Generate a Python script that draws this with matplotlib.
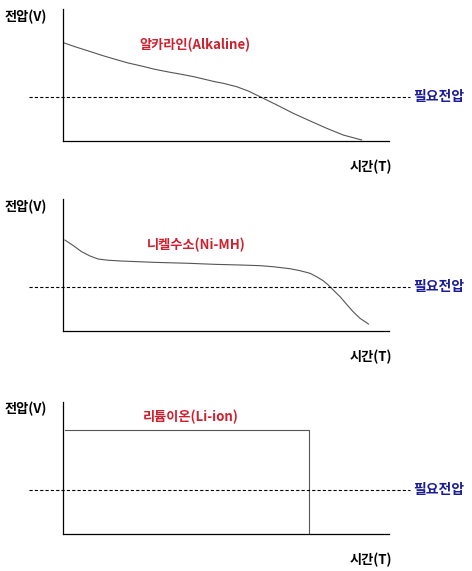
import matplotlib
matplotlib.use("Agg")
import matplotlib.pyplot as plt

plt.rcParams['font.family'] = ['Noto Sans CJK KR', 'DejaVu Sans']

# ---- data (time and voltage in arbitrary units 0..100) ----
alk_t = [0.1, 3.7, 7.8, 11.9, 16.0, 20.0, 24.1, 28.2, 32.3, 36.4, 40.5, 46.6,
         49.2, 53.3, 56.8, 60.4, 65.6, 70.6, 75.8, 80.9, 86.0, 91.6]
alk_v = [74.5, 71.4, 68.2, 64.9, 61.9, 59.1, 56.8, 54.3, 52.3, 50.5, 48.5, 44.9,
         43.7, 41.1, 37.9, 33.6, 27.3, 21.0, 15.2, 9.6, 4.5, 0.8]

nimh_t = [0.6, 3.2, 5.7, 8.3, 10.8, 13.9, 18.0, 28.2, 38.4, 46.6, 54.3, 60.4,
          64.5, 69.6, 72.7, 75.8, 77.8, 79.8, 81.4, 83.4, 85.0, 87.0, 89.0, 91.1, 93.7]
nimh_v = [68.9, 64.6, 60.1, 56.8, 54.5, 53.6, 53.0, 52.0, 51.3, 50.5, 50.0, 49.5,
          48.7, 47.2, 45.7, 43.7, 41.1, 38.1, 34.8, 29.8, 26.0, 20.2, 14.6, 9.6, 5.3]

li_t = [0.6, 75.5, 75.5]
li_v = [78.8, 78.8, 0.0]

required_v = 33.3
titles = ["알카라인(Alkaline)", "니켈수소(Ni-MH)", "리튬이온(Li-ion)"]
ylabel = "전압(V)"
xlabel = "시간(T)"
req_label = "필요전압"

W, H = 472, 571
fig = plt.figure(figsize=(W / 100, H / 100), dpi=100)
fig.patch.set_facecolor('white')

RED = '#d0202e'
NAVY = '#1c1c96'

def fx(x):
    return x / W

def fy(y):
    return 1 - y / H

panels = [
    dict(top=9, bottom=141, t=alk_t, v=alk_v, title_xy=(195, 45), yl=17, xl=167),
    dict(top=199, bottom=331, t=nimh_t, v=nimh_v, title_xy=(196, 245), yl=207, xl=357),
    dict(top=402, bottom=534, t=li_t, v=li_v, title_xy=(191, 417), yl=409, xl=560),
]

left_px, right_px = 63, 389

for i, p in enumerate(panels):
    ax = fig.add_axes([fx(left_px), fy(p['bottom']), fx(right_px - left_px),
                       (p['bottom'] - p['top']) / H])
    ax.set_xlim(0, 100)
    ax.set_ylim(0, 100)
    ax.set_xticks([])
    ax.set_yticks([])
    for s in ['top', 'right']:
        ax.spines[s].set_visible(False)
    for s in ['left', 'bottom']:
        ax.spines[s].set_linewidth(0.9)
        ax.spines[s].set_color('black')
    ax.patch.set_alpha(0)

    ax.plot(p['t'], p['v'], color='#555555', lw=0.8, solid_joinstyle='round')

    ln, = ax.plot([-10.4, 106.4], [required_v, required_v], color='black',
                  lw=0.8, clip_on=False)
    ln.set_dashes((2.9, 1.9))

    yreq_px = p['bottom'] - required_v / 100 * (p['bottom'] - p['top'])
    fig.text(fx(413), fy(yreq_px), req_label, color=NAVY, fontsize=10,
             fontweight='bold', ha='left', va='center')
    fig.text(fx(p['title_xy'][0]), fy(p['title_xy'][1]), titles[i], color=RED,
             fontsize=9.5, fontweight='bold', ha='center', va='center')
    fig.text(fx(5), fy(p['yl']), ylabel, color='black', fontsize=9.5,
             fontweight='bold', ha='left', va='center')
    fig.text(fx(350), fy(p['xl']), xlabel, color='black', fontsize=9.5,
             fontweight='bold', ha='left', va='center')

fig.savefig('out.png', dpi=100, facecolor='white')
